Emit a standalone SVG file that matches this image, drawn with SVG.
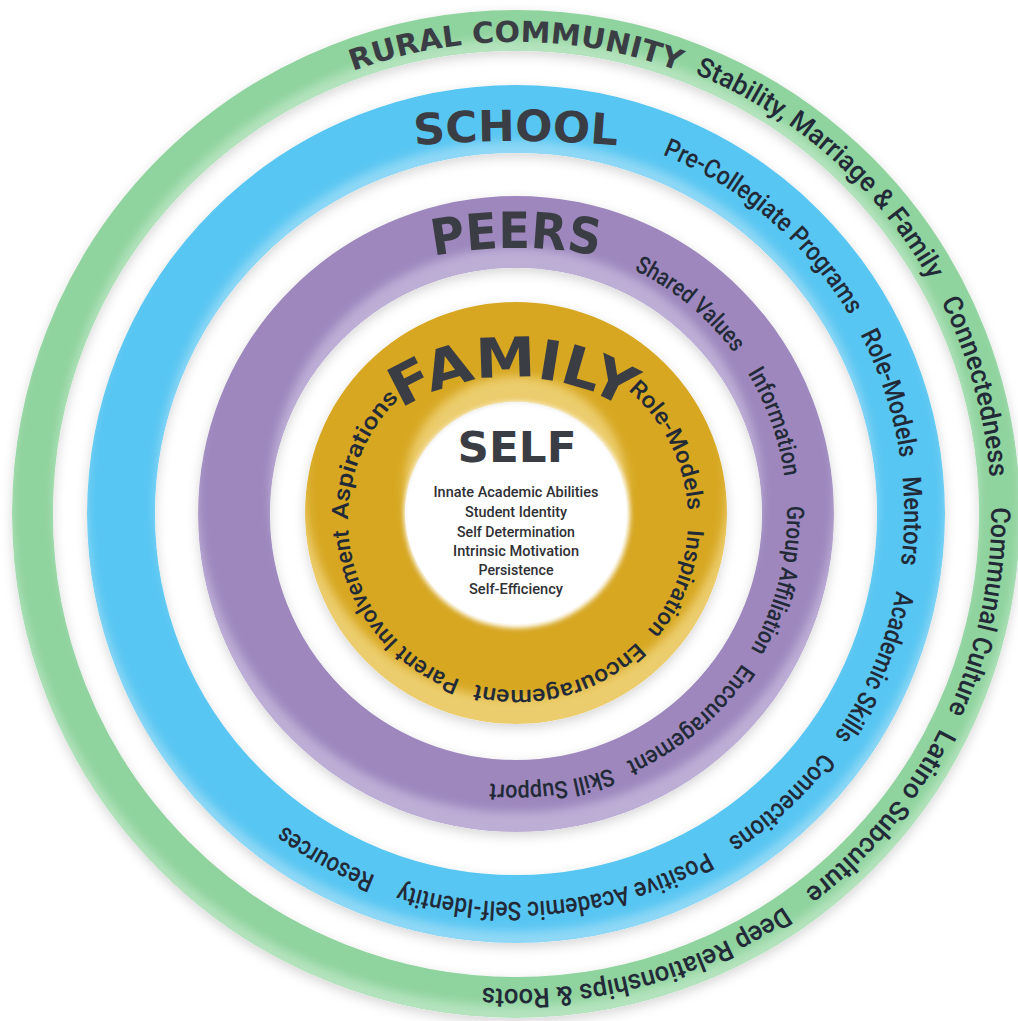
<svg xmlns="http://www.w3.org/2000/svg" width="1018" height="1021" viewBox="0 0 1018 1021">
  <style>
    .title { font-family: "DejaVu Sans", "Liberation Sans", sans-serif; font-weight: bold; fill: #3b3d45; }
    .sub { font-family: Roboto, "Liberation Sans", sans-serif; font-weight: 500; fill: #222a38; }
    .g { font-size: 27px; }
    .b { font-size: 26px; }
    .p { font-size: 24px; }
    .y { font-size: 23px; }
    .list { font-family: Roboto, "Liberation Sans", sans-serif; font-weight: 500; font-size: 15px; fill: #2f3035; text-anchor: middle; }
  </style>
  <defs>
    <filter id="soft" filterUnits="userSpaceOnUse" x="-20" y="-20" width="1060" height="1060">
      <feDropShadow dx="0" dy="4" stdDeviation="6" flood-color="#000" flood-opacity="0.16"/>
    </filter>
    <filter id="blur" filterUnits="userSpaceOnUse" x="-20" y="-40" width="1060" height="1100">
      <feGaussianBlur stdDeviation="5"/>
    </filter>
    <filter id="edge" filterUnits="userSpaceOnUse" x="380" y="380" width="280" height="280">
      <feGaussianBlur stdDeviation="2.5"/>
    </filter>

    <!-- ring masks -->
    <mask id="m-green" maskUnits="userSpaceOnUse" x="0" y="0" width="1018" height="1021">
      <circle cx="516" cy="514" r="483.5" fill="none" stroke="#fff" stroke-width="41"/>
    </mask>
    <mask id="m-blue" maskUnits="userSpaceOnUse" x="0" y="0" width="1018" height="1021">
      <circle cx="516" cy="514" r="395" fill="none" stroke="#fff" stroke-width="68"/>
    </mask>
    <mask id="m-purple" maskUnits="userSpaceOnUse" x="0" y="0" width="1018" height="1021">
      <circle cx="516" cy="514" r="282" fill="none" stroke="#fff" stroke-width="72"/>
    </mask>
    <mask id="m-gold" maskUnits="userSpaceOnUse" x="0" y="0" width="1018" height="1021">
      <circle cx="516" cy="513" r="161" fill="none" stroke="#fff" stroke-width="100"/>
    </mask>

    <!-- label baselines: clockwise from 12 o'clock, two turns -->
    <path id="p-green" d="M516,39 A475,475 0 1,1 516,989 A475,475 0 1,1 516,39 A475,475 0 1,1 516,989 A475,475 0 1,1 516,39"/>
    <path id="p-blue" d="M516,126 A388,388 0 1,1 516,902 A388,388 0 1,1 516,126 A388,388 0 1,1 516,902 A388,388 0 1,1 516,126"/>
    <path id="p-purple" d="M516,243 A271,271 0 1,1 516,785 A271,271 0 1,1 516,243 A271,271 0 1,1 516,785 A271,271 0 1,1 516,243"/>
    <path id="p-gold" d="M518,350 A170,170 0 1,1 518,690 A170,170 0 1,1 518,350 A170,170 0 1,1 518,690 A170,170 0 1,1 518,350"/>

    <!-- title baselines -->
    <path id="t-community" d="M316.5,86.2 A472,472 0 0,1 715.5,86.2"/>
    <path id="t-school" d="M400,146.6 A1200,1200 0 0,1 632,146.6"/>
    <path id="t-peers" d="M416,259.8 A430,430 0 0,1 616,259.8"/>
    <path id="t-family" d="M390.8,415.5 A213,213 0 0,1 635.2,415.5"/>
  </defs>

  <rect width="1018" height="1021" fill="#ffffff"/>

  <!-- outer ring: rural community -->
  <g id="ring-community">
    <g filter="url(#soft)">
      <g mask="url(#m-green)">
        <circle cx="516" cy="514" r="483.5" fill="none" stroke="#b4e3bd" stroke-width="41"/>
        <circle cx="516" cy="502" r="483.5" fill="none" stroke="#8fd39e" stroke-width="41" filter="url(#blur)"/>
      </g>
    </g>
    <text class="title" font-size="29"><textPath href="#t-community" startOffset="50%" text-anchor="middle" textLength="333" lengthAdjust="spacingAndGlyphs">RURAL COMMUNITY</textPath></text>
    <text class="sub g"><textPath href="#p-green" startOffset="183.2" textLength="318.4" lengthAdjust="spacingAndGlyphs">Stability, Marriage &amp; Family</textPath></text>
    <text class="sub g"><textPath href="#p-green" startOffset="525.6" textLength="184" lengthAdjust="spacingAndGlyphs">Connectedness</textPath></text>
    <text class="sub g"><textPath href="#p-green" startOffset="739.5" textLength="210.6" lengthAdjust="spacingAndGlyphs">Communal Culture</textPath></text>
    <text class="sub g"><textPath href="#p-green" startOffset="968.3" textLength="213.9" lengthAdjust="spacingAndGlyphs">Latino Subculture</textPath></text>
    <text class="sub g"><textPath href="#p-green" startOffset="1207.9" textLength="318.4" lengthAdjust="spacingAndGlyphs">Deep Relationships &amp; Roots</textPath></text>
  </g>

  <!-- school ring -->
  <g id="ring-school">
    <g filter="url(#soft)">
      <g mask="url(#m-blue)">
        <circle cx="516" cy="514" r="395" fill="none" stroke="#8fd8f6" stroke-width="68"/>
        <circle cx="516" cy="502" r="395" fill="none" stroke="#58c6f2" stroke-width="68" filter="url(#blur)"/>
      </g>
    </g>
    <text class="title" font-size="43"><textPath href="#t-school" startOffset="50%" text-anchor="middle" textLength="203" lengthAdjust="spacingAndGlyphs">SCHOOL</textPath></text>
    <text class="sub b"><textPath href="#p-blue" startOffset="150.3" textLength="250.6" lengthAdjust="spacingAndGlyphs">Pre-Collegiate Programs</textPath></text>
    <text class="sub b"><textPath href="#p-blue" startOffset="422.6" textLength="130.7" lengthAdjust="spacingAndGlyphs">Role-Models</textPath></text>
    <text class="sub b"><textPath href="#p-blue" startOffset="572.2" textLength="88" lengthAdjust="spacingAndGlyphs">Mentors</textPath></text>
    <text class="sub b"><textPath href="#p-blue" startOffset="686.7" textLength="159.1" lengthAdjust="spacingAndGlyphs">Academic Skills</textPath></text>
    <text class="sub b"><textPath href="#p-blue" startOffset="865.4" textLength="130" lengthAdjust="spacingAndGlyphs">Connections</textPath></text>
    <text class="sub b"><textPath href="#p-blue" startOffset="1019.2" textLength="317.6" lengthAdjust="spacingAndGlyphs">Positive Academic Self-Identity</textPath></text>
    <text class="sub b"><textPath href="#p-blue" startOffset="1362.5" textLength="104.3" lengthAdjust="spacingAndGlyphs">Resources</textPath></text>
  </g>

  <!-- peers ring -->
  <g id="ring-peers">
    <g filter="url(#soft)">
      <g mask="url(#m-purple)">
        <circle cx="516" cy="514" r="282" fill="none" stroke="#bdaed6" stroke-width="72"/>
        <circle cx="516" cy="494" r="282" fill="none" stroke="#9d87bd" stroke-width="72" filter="url(#blur)"/>
      </g>
    </g>
    <text class="title" font-size="50"><textPath href="#t-peers" startOffset="50%" text-anchor="middle" textLength="166" lengthAdjust="spacingAndGlyphs">PEERS</textPath></text>
    <text class="sub p"><textPath href="#p-purple" startOffset="122" textLength="131" lengthAdjust="spacingAndGlyphs">Shared Values</textPath></text>
    <text class="sub p"><textPath href="#p-purple" startOffset="277.2" textLength="110.7" lengthAdjust="spacingAndGlyphs">Information</textPath></text>
    <text class="sub p"><textPath href="#p-purple" startOffset="417.6" textLength="149.9" lengthAdjust="spacingAndGlyphs">Group Affiliation</textPath></text>
    <text class="sub p"><textPath href="#p-purple" startOffset="583.7" textLength="154.2" lengthAdjust="spacingAndGlyphs">Encouragement</textPath></text>
    <text class="sub p"><textPath href="#p-purple" startOffset="753.9" textLength="123.4" lengthAdjust="spacingAndGlyphs">Skill Support</textPath></text>
  </g>

  <!-- family ring -->
  <g id="ring-family">
    <g filter="url(#soft)">
      <g mask="url(#m-gold)">
        <circle cx="516" cy="513" r="161" fill="none" stroke="#eccd6e" stroke-width="100"/>
        <circle cx="516" cy="487" r="161" fill="none" stroke="#d7a722" stroke-width="100" filter="url(#blur)"/>
      </g>
    </g>
    <text class="title" font-size="55"><textPath href="#t-family" startOffset="50%" text-anchor="middle" textLength="236" lengthAdjust="spacingAndGlyphs">FAMILY</textPath></text>
    <text class="sub y"><textPath href="#p-gold" startOffset="119.3" textLength="138" lengthAdjust="spacingAndGlyphs">Role-Models</textPath></text>
    <text class="sub y"><textPath href="#p-gold" startOffset="276.5" textLength="110.7" lengthAdjust="spacingAndGlyphs">Inspiration</textPath></text>
    <text class="sub y"><textPath href="#p-gold" startOffset="402.6" textLength="174.5" lengthAdjust="spacingAndGlyphs">Encouragement</textPath></text>
    <text class="sub y"><textPath href="#p-gold" startOffset="592.8" textLength="198.2" lengthAdjust="spacingAndGlyphs">Parent Involvement</textPath></text>
    <text class="sub y"><textPath href="#p-gold" startOffset="801.1" textLength="135" lengthAdjust="spacingAndGlyphs">Aspirations</textPath></text>
  </g>

  <!-- self core -->
  <g id="node-self">
    <circle cx="517" cy="515" r="113" fill="#ffffff" filter="url(#edge)"/>
    <circle cx="517" cy="515" r="108" fill="#ffffff"/>
    <text class="title" x="517" y="462" font-size="42" text-anchor="middle" textLength="119" lengthAdjust="spacingAndGlyphs">SELF</text>
    <text class="list" x="516" y="497" textLength="165" lengthAdjust="spacingAndGlyphs">Innate Academic Abilities</text>
    <text class="list" x="516" y="517" textLength="102" lengthAdjust="spacingAndGlyphs">Student Identity</text>
    <text class="list" x="516" y="536.5" textLength="118" lengthAdjust="spacingAndGlyphs">Self Determination</text>
    <text class="list" x="516" y="556" textLength="126" lengthAdjust="spacingAndGlyphs">Intrinsic Motivation</text>
    <text class="list" x="516" y="575" textLength="75" lengthAdjust="spacingAndGlyphs">Persistence</text>
    <text class="list" x="516" y="594" textLength="94" lengthAdjust="spacingAndGlyphs">Self-Efficiency</text>
  </g>
</svg>
